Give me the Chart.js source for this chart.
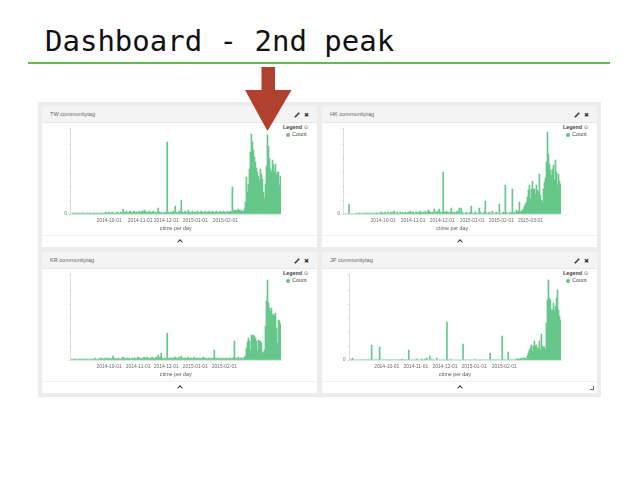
<!DOCTYPE html>
<html>
<head>
<meta charset="utf-8">
<title>Dashboard - 2nd peak</title>
<script src="https://cdn.jsdelivr.net/npm/chart.js@4.4.1/dist/chart.umd.min.js"></script>
<style>
  body { margin: 0; width: 638px; height: 479px; background: #fff; position: relative; overflow: hidden; font-family: "Liberation Sans", Arial, sans-serif; }
  #slideTitle { position: absolute; left: 45px; top: 24px; font: 29px/34px "DejaVu Sans Mono", monospace; color: #111; white-space: pre; }
  #rule { position: absolute; left: 28px; top: 62px; width: 582px; height: 2px; background: #64b94c; }
  #dash { position: absolute; left: 38px; top: 102px; width: 563px; height: 295px; background: #ececec; }
  .panel { position: absolute; width: 275px; height: 141px; background: #fff; }
  .head { position: absolute; left: 0; top: 0; width: 275px; height: 17px; background: #f4f4f4; border-bottom: 1px solid #e8e8e8; box-sizing: border-box; }
  .head .name { position: absolute; left: 8px; top: 0; font-size: 5.6px; line-height: 17px; color: #666; }
  .head .edit { position: absolute; left: 252px; top: 6px; }
  .head .close { position: absolute; left: 262px; top: 0; font: bold 6px/17px "DejaVu Sans", sans-serif; color: #333; }
  .panel canvas { position: absolute; left: 0; top: 17px; }
  .legend { position: absolute; left: 241px; top: 18px; font-size: 5.4px; color: #444; }
  .legend .lt { font-weight: bold; line-height: 7px; }
  .legend .ic { font-family: "DejaVu Sans", sans-serif; font-weight: normal; color: #555; }
  .legend .li { line-height: 7px; margin-left: 3px; }
  .legend .dot { display: inline-block; width: 4px; height: 4px; border-radius: 50%; background: #62c586; margin-right: 2px; vertical-align: -0.5px; }
  .sep { position: absolute; left: 0; top: 129px; width: 275px; height: 1px; background: #f0f0f0; }
  .chev { position: absolute; left: 136px; top: 134px; width: 3px; height: 3px; border-left: 1.4px solid #333; border-top: 1.4px solid #333; transform: rotate(45deg); }
  .resize { position: absolute; left: 268px; top: 134px; width: 3px; height: 3px; border-right: 1px solid #666; border-bottom: 1px solid #666; }
  #arrow { position: absolute; left: 0; top: 0; }
</style>
</head>
<body>
<div id="slideTitle">Dashboard - 2nd peak</div>
<div id="rule"></div>
<div id="dash"></div>
<div id="panels"></div>
<svg id="arrow" width="638" height="479">
  <polygon points="261.5,67 275,67 275,90 291.5,90 267.5,131 245,90 261.5,90" fill="#b2402f"/>
</svg>

<script>
// ===== Data (daily counts) =====

const tickLabels = ["2014-10-01", "2014-11-01", "2014-12-01", "2015-01-01", "2015-02-01"];
const hkTickLabels = ["2014-10-01", "2014-11-01", "2014-12-01", "2015-01-01", "2015-02-01", "2015-03-01"];

// which day (bar index) each date label sits under
const twTickAt = [38, 69, 95, 124, 154];
const hkTickAt = [39, 69, 98, 128, 157, 186];
const krTickAt = [38, 67, 95, 124, 153];
const jpTickAt = [37, 66, 95, 124, 154];

const twCounts = [
  0,0,1,1,0,1,1,0,1,1, 0,1,1,0,1,0,1,1,0,1, 1,0,1,1,1,0,1,1,0,1,
  1,1,0,1,1,2,1,1,2,1, 1,2,1,1,0,1,2,1,1,1, 2,1,5,2,1,3,2,1,2,3,
  2,1,2,3,1,2,2,1,3,2, 2,3,2,4,3,2,1,2,3,2, 1,2,3,1,2,1,2,6,2,1,
  2,1,1,2,1,2,72,2,1,2, 1,2,3,1,8,2,1,2,3,2, 14,2,1,2,3,1,2,4,2,1,
  2,3,1,2,2,1,3,2,1,2, 3,2,1,2,3,1,2,2,3,1, 2,3,2,1,2,3,2,1,2,3,
  2,1,3,2,2,1,3,2,2,3, 2,27,3,4,3,4,3,5,4,3, 4,3,2,5,12,37,22,30,45,62,
  80,72,64,57,52,46,42,38,34,45, 40,35,22,16,30,48,79,68,56,45, 42,54,49,42,50,39,42,42,29,38
];

const hkCounts = [
  0,0,0,0,0,10,0,0,0,0, 0,0,1,0,0,1,1,0,0,1, 0,1,1,0,1,0,1,1,0,1,
  1,0,1,1,0,1,1,2,1,1, 1,2,1,0,2,1,1,2,1,2, 3,1,1,2,1,0,2,1,2,1,
  1,2,1,1,2,1,3,1,2,2, 1,1,2,1,2,1,3,2,1,2, 1,3,1,2,4,3,2,1,2,1,
  5,2,1,3,2,5,2,1,2,42, 2,1,3,2,1,2,2,6,2,1, 2,1,2,3,2,6,1,6,2,1,
  0,1,2,1,0,1,2,8,1,0, 1,2,1,0,1,6,2,1,0,1, 2,13,1,0,1,2,1,0,3,1,
  0,1,2,1,0,10,1,0,1,2, 1,29,2,1,0,1,2,1,25,1, 2,1,4,2,3,12,2,3,4,5,
  8,10,12,17,24,29,15,25,33,25, 25,20,29,24,22,40,19,14,12,25, 32,36,52,82,60,50,44,39,45,49,
  34,54,42,29,40,33,30
];

const krCounts = [
  0,1,0,1,1,0,1,0,1,1, 1,0,1,1,0,1,1,0,1,0, 1,1,0,1,2,1,0,1,1,2,
  1,2,1,1,2,1,2,1,2,1, 1,2,4,1,2,1,1,2,1,1, 1,2,3,1,2,1,2,1,2,1,
  1,2,1,2,2,1,2,3,2,1, 2,1,2,3,2,2,3,2,1,2, 2,3,2,1,2,3,2,5,2,3,
  7,2,1,2,1,2,27,2,1,2, 2,1,2,2,3,2,1,2,3,1, 4,2,1,2,2,1,2,3,1,2,
  2,1,2,3,1,2,2,1,2,2, 1,2,3,2,1,2,1,2,2,1, 2,1,2,10,2,1,2,1,2,1,
  2,1,2,1,2,1,2,1,2,2, 1,2,2,19,2,1,2,3,1,2, 2,1,2,3,4,12,18,22,19,10,
  25,24,25,24,22,19,9,20,19,19, 17,7,8,10,34,59,80,57,52,49, 52,45,46,44,47,32,17,40,39,36
];

const jpCounts = [
  0,0,0,2,0,0,0,0,0,0, 0,0,0,0,0,0,0,0,0,0, 0,0,15,0,0,0,0,0,0,0,
  13,0,0,0,0,0,0,0,0,0, 0,0,0,0,0,0,0,0,0,0, 0,0,1,0,0,0,0,0,0,10,
  0,0,0,0,0,0,0,1,0,0, 0,0,1,0,0,1,0,2,0,0, 4,0,1,0,0,0,0,2,0,0,
  0,0,0,0,0,0,0,38,0,0, 0,1,0,0,0,0,0,0,0,0, 0,0,0,16,0,0,0,0,0,0,
  0,0,0,0,0,1,0,0,0,0, 0,0,0,0,0,0,0,0,0,0, 7,0,0,0,0,0,0,0,0,0,
  0,0,24,0,0,0,0,0,8,0, 0,0,0,0,0,0,1,1,1,1, 1,2,1,2,2,2,1,4,7,10,
  12,15,9,14,19,14,15,12,12,19, 10,26,14,13,13,11,37,60,80,62, 60,50,50,57,49,54,62,70,50,44,
  40
];

const BAR_GREEN = "#66c78a";

// Build one dashboard panel (header, canvas, legend, footer)
function addPanel(name, left, top, showResize) {
  const panel = document.createElement("div");
  panel.className = "panel";
  panel.style.left = left + "px";
  panel.style.top = top + "px";
  panel.innerHTML = `
    <div class="head">
      <span class="name">${name}</span>
      <svg class="edit" width="6" height="6"><line x1="0.8" y1="5.2" x2="5.2" y2="0.8" stroke="#333" stroke-width="1.5"/></svg>
      <span class="close">✖</span>
    </div>
    <canvas width="241" height="112"></canvas>
    <div class="legend">
      <div class="lt">Legend <span class="ic">⊙</span></div>
      <div class="li"><span class="dot"></span>Count</div>
    </div>
    <div class="sep"></div>
    <div class="chev"></div>
    ${showResize ? '<div class="resize"></div>' : ''}
  `;
  document.getElementById("panels").appendChild(panel);
  return panel.querySelector("canvas");
}

// Draw a daily histogram in Kibana style
function drawHistogram(canvas, counts, tickAt, labels, yWidth, showZero) {
  return new Chart(canvas.getContext("2d"), {
    type: "bar",
    data: {
      labels: counts.map((_, i) => i),
      datasets: [{
        label: "Count",
        data: counts,
        backgroundColor: BAR_GREEN,
        borderWidth: 0,
        categoryPercentage: 1,
        barPercentage: 1
      }]
    },
    options: {
      responsive: false,
      animation: false,
      devicePixelRatio: 1,
      layout: { padding: { top: 5, right: 2, left: 0, bottom: 0 } },
      plugins: { legend: { display: false }, tooltip: { enabled: false } },
      scales: {
        x: {
          grid: { display: false, drawTicks: false },
          border: { color: "#e2e2e2" },
          afterBuildTicks: s => { s.ticks = tickAt.map(v => ({ value: v })); },
          afterFit: s => { s.height = 21; },
          ticks: {
            autoSkip: false, maxRotation: 0, minRotation: 0, padding: 3.3,
            color: "#6a6a6a", font: { size: 4.9 },
            callback: (v, i) => labels[i]
          },
          title: {
            display: true, text: "ctime per day", color: "#555",
            font: { size: 5.3 }, padding: { top: 0, bottom: 3.5 }
          }
        },
        y: {
          min: 0, max: 86,
          grid: { drawOnChartArea: false, drawTicks: true, tickLength: 2, color: "#e6e6e6" },
          border: { color: "#dcdcdc" },
          afterFit: s => { s.width = yWidth; },
          ticks: {
            stepSize: 14, padding: 1.5, color: "#777", font: { size: 5 },
            callback: v => (v === 0 && showZero ? "0" : "")
          }
        }
      }
    }
  });
}

window.onload = () => {
  const tw = addPanel("TW communitytag", 42, 106, false);
  const hk = addPanel("HK communitytag", 322, 106, false);
  const kr = addPanel("KR communitytag", 42, 252, false);
  const jp = addPanel("JP communitytag", 322, 252, true);

  drawHistogram(tw, twCounts, twTickAt, tickLabels, 28.5, true);
  drawHistogram(hk, hkCounts, hkTickAt, hkTickLabels, 21.5, true);
  drawHistogram(kr, krCounts, krTickAt, tickLabels, 28.5, false);
  drawHistogram(jp, jpCounts, jpTickAt, tickLabels, 27, true);
};
</script>
</body>
</html>
